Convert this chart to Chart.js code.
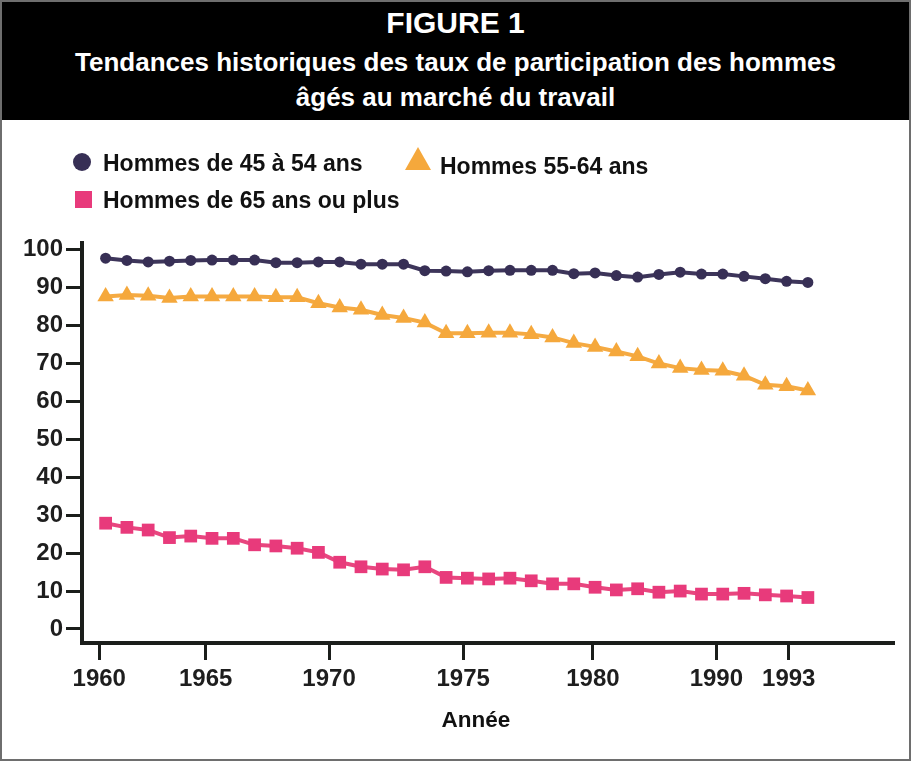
<!DOCTYPE html>
<html lang="fr">
<head>
<meta charset="utf-8">
<script src="https://cdn.jsdelivr.net/npm/chart.js@4/dist/chart.umd.min.js"></script>
<style>
    body {
        margin: 0;
        width: 911px;
        height: 761px;
        overflow: hidden;
        background: #fff;
        font-family: "Liberation Sans", Arial, sans-serif;
        font-weight: bold;
    }
    #frame {
        position: absolute;
        left: 0;
        top: 0;
        width: 911px;
        height: 761px;
        box-sizing: border-box;
        border: 2px solid #6e6e6e;
        pointer-events: none;
    }
    #header {
        position: absolute;
        left: 0;
        top: 0;
        width: 911px;
        height: 120px;
        background: #000;
        color: #fff;
        text-align: center;
    }
    .hline {
        position: absolute;
        left: 0;
        width: 911px;
        text-align: center;
        line-height: 1;
    }
    .leg {
        position: absolute;
        font-size: 23px;
        line-height: 24px;
        color: #111;
        white-space: nowrap;
    }
    .mark {
        position: absolute;
    }
    #axisTitle {
        position: absolute;
        left: 0;
        width: 952px;
        top: 708px;
        text-align: center;
        font-size: 22.5px;
        line-height: 24px;
        color: #111;
    }
    canvas {
        position: absolute;
        left: 0;
        top: 0;
    }
</style>
</head>
<body>
<canvas id="chart" width="911" height="761"></canvas>
<div id="header">
    <div class="hline" style="top:8px;font-size:30px;">FIGURE 1</div>
    <div class="hline" style="top:49px;font-size:26px;">Tendances historiques des taux de participation des hommes</div>
    <div class="hline" style="top:84px;font-size:26px;">âgés au marché du travail</div>
</div>

<div class="mark" style="left:73px;top:153px;width:18px;height:18px;border-radius:50%;background:#372f55;"></div>
<div class="leg" style="left:103px;top:151px;">Hommes de 45 à 54 ans</div>
<div class="mark" style="left:405px;top:147px;width:0;height:0;border-left:13px solid transparent;border-right:13px solid transparent;border-bottom:23px solid #f5a83c;"></div>
<div class="leg" style="left:440px;top:154px;">Hommes 55-64 ans</div>
<div class="mark" style="left:75px;top:191px;width:17px;height:17px;background:#e83a7b;"></div>
<div class="leg" style="left:103px;top:188px;">Hommes de 65 ans ou plus</div>

<div id="axisTitle">Année</div>
<div id="frame"></div>

<script>
const years = [1960, 1961, 1962, 1963, 1964, 1965, 1966, 1967, 1968, 1969,
    1970, 1971, 1972, 1973, 1974, 1975, 1976, 1977, 1978, 1979,
    1980, 1981, 1982, 1983, 1984, 1985, 1986, 1987, 1988, 1989,
    1990, 1991, 1992, 1993];

const hommes4554 = [97.8, 97.2, 96.8, 97.0, 97.2, 97.3, 97.3, 97.3, 96.6, 96.6,
    96.8, 96.8, 96.2, 96.2, 96.2, 94.5, 94.4, 94.2, 94.5, 94.6,
    94.6, 94.6, 93.7, 93.9, 93.2, 92.8, 93.5, 94.1, 93.6, 93.6,
    93.0, 92.4, 91.7, 91.4];

const hommes5564 = [87.7, 88.1, 87.9, 87.3, 87.7, 87.7, 87.7, 87.7, 87.5, 87.5,
    85.9, 84.8, 84.2, 82.8, 82.0, 80.8, 78.0, 78.0, 78.1, 78.1,
    77.7, 76.9, 75.4, 74.4, 73.2, 71.9, 70.0, 68.8, 68.3, 68.1,
    66.8, 64.4, 64.0, 62.9];

const hommes65 = [27.9, 26.8, 26.1, 24.1, 24.5, 23.9, 23.9, 22.2, 21.9, 21.3,
    20.2, 17.6, 16.4, 15.8, 15.6, 16.4, 13.6, 13.4, 13.2, 13.4,
    12.7, 11.9, 11.9, 11.0, 10.3, 10.6, 9.7, 10.0, 9.2, 9.2,
    9.4, 9.0, 8.7, 8.3];

// the original's year labels do not sit on their years
const tickYears = [1959.7, 1964.7, 1970.5, 1976.8, 1982.9, 1988.7, 1992.1];
const tickLabels = ["1960", "1965", "1970", "1975", "1980", "1990", "1993"];
const yTicks = [0, 10, 20, 30, 40, 50, 60, 70, 80, 90, 100];

const fontFamily = "'Liberation Sans', Arial, sans-serif";
const axisColor = "#1b1e1b";

function toPoints(values) {
    return years.map((year, i) => ({ x: year, y: values[i] }));
}

new Chart(document.getElementById("chart"), {
    type: "line",
    data: {
        datasets: [
            {
                label: "Hommes de 65 ans ou plus",
                data: toPoints(hommes65),
                borderColor: "#e8467f",
                backgroundColor: "#e83a7b",
                borderWidth: 4,
                pointStyle: "rect",
                pointRadius: 9,
                pointBorderWidth: 0
            },
            {
                label: "Hommes 55-64 ans",
                data: toPoints(hommes5564),
                borderColor: "#f5aa42",
                backgroundColor: "#f5a83c",
                borderWidth: 4,
                pointStyle: "triangle",
                pointRadius: 9.5,
                pointBorderWidth: 0
            },
            {
                label: "Hommes de 45 à 54 ans",
                data: toPoints(hommes4554),
                borderColor: "#3d355a",
                backgroundColor: "#372f55",
                borderWidth: 4,
                pointStyle: "circle",
                pointRadius: 5.5,
                pointBorderWidth: 0
            }
        ]
    },
    options: {
        responsive: false,
        animation: false,
        layout: {
            padding: { top: 243, right: 18, bottom: 0, left: 0 }
        },
        plugins: {
            legend: { display: false },
            tooltip: { enabled: false }
        },
        scales: {
            x: {
                type: "linear",
                min: 1958.89,
                max: 1997,
                afterFit: (scale) => { scale.height = 118; },
                afterBuildTicks: (scale) => {
                    scale.ticks = tickYears.map(v => ({ value: v }));
                },
                ticks: {
                    autoSkip: false,
                    maxRotation: 0,
                    padding: 5,
                    color: "#1e1e1e",
                    font: { family: fontFamily, size: 24, weight: "bold" },
                    callback: (value, index) => tickLabels[index]
                },
                grid: {
                    drawOnChartArea: false,
                    drawTicks: true,
                    tickLength: 17,
                    lineWidth: 3,
                    color: axisColor
                },
                border: { display: true, width: 4, color: axisColor }
            },
            y: {
                min: -3.7,
                max: 101.8,
                afterFit: (scale) => { scale.width = 82; },
                afterBuildTicks: (scale) => {
                    scale.ticks = yTicks.map(v => ({ value: v }));
                },
                ticks: {
                    padding: 3,
                    color: "#1e1e1e",
                    font: { family: fontFamily, size: 24, weight: "bold" }
                },
                grid: {
                    drawOnChartArea: false,
                    drawTicks: true,
                    tickLength: 16,
                    lineWidth: 3,
                    color: axisColor
                },
                border: { display: true, width: 4, color: axisColor }
            }
        }
    }
});
</script>
</body>
</html>
